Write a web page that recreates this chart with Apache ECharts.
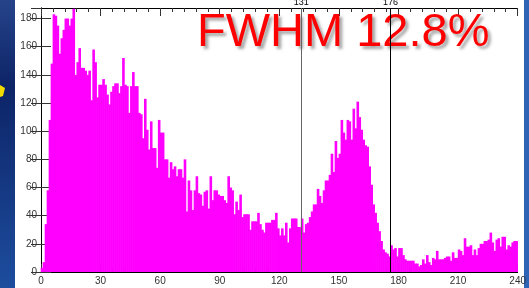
<!DOCTYPE html>
<html>
<head>
<meta charset="utf-8">
<script src="https://cdn.jsdelivr.net/npm/echarts@6/dist/echarts.min.js"></script>
<style>
html, body { margin: 0; padding: 0; }
#chart_container { width: 529px; height: 288px; }
</style>
</head>
<body>
<div id="chart_container"></div>
<script>
// counts per channel, channel 0..239
const counts = [
  3, 7, 34, 58, 108, 148, 183, 182, 175, 155,
  166, 172, 180, 180, 175, 180, 187, 140, 149, 159,
  145, 145, 143, 140, 143, 122, 158, 149, 124, 133,
  133, 137, 133, 126, 119, 128, 132, 134, 134, 127,
  132, 152, 133, 132, 113, 132, 142, 132, 132, 113,
  112, 95, 123, 101, 87, 107, 88, 88, 74, 108,
  99, 99, 80, 80, 67, 78, 73, 75, 68, 73,
  73, 67, 80, 43, 65, 58, 44, 58, 68, 56,
  55, 47, 57, 58, 45, 68, 51, 58, 58, 55,
  54, 54, 51, 49, 68, 60, 58, 41, 50, 44,
  55, 39, 41, 41, 41, 30, 36, 36, 36, 42,
  34, 30, 28, 35, 35, 35, 37, 37, 42, 31,
  26, 31, 26, 35, 21, 31, 38, 38, 38, 32,
  32, 38, 28, 34, 35, 39, 43, 48, 48, 59,
  54, 49, 58, 65, 65, 69, 84, 71, 93, 81,
  84, 108, 99, 94, 108, 107, 94, 116, 102, 121,
  110, 101, 94, 90, 89, 75, 62, 48, 42, 35,
  29, 22, 16, 14, 13, 11, 19, 16, 17, 11,
  17, 17, 12, 9, 8, 8, 8, 8, 6, 6,
  4, 5, 9, 6, 12, 7, 5, 10, 9, 15,
  9, 9, 9, 10, 11, 11, 8, 14, 10, 10,
  16, 15, 12, 24, 18, 18, 19, 12, 16, 12,
  17, 20, 20, 22, 22, 23, 28, 21, 15, 23,
  24, 18, 25, 25, 16, 19, 18, 21, 22, 22
]
// axis ranges / ticks
const xMin = 0, xMax = 240, xStep = 30
const yMin = 0, yMax = 187.5, yStep = 20
// FWHM cursors
const markers = [131, 176]
const markerColors = ['#666666', '#000000']
const titleText = 'FWHM 12.8%'

let chartPlot = echarts.init(document.getElementById('chart_container'))

const axisFont = { fontFamily: 'Liberation Sans, Arial, sans-serif', fontSize: 10, color: '#333' }

function xAxisOpt(pos, showLabel) {
  return {
    type: 'value',
    position: pos,
    min: xMin,
    max: xMax,
    interval: xStep,
    axisLine: { show: true, onZero: false, lineStyle: { color: '#000', width: 1 } },
    axisTick: { show: true, inside: true, length: 8, lineStyle: { color: '#333' } },
    minorTick: { show: true, splitNumber: 5, length: 4, lineStyle: { color: '#333' } },
    axisLabel: Object.assign({ show: showLabel, margin: 4 }, axisFont),
    splitLine: { show: false },
  }
}

function yAxisOpt(pos, showLabel) {
  return {
    type: 'value',
    position: pos,
    min: yMin,
    max: yMax,
    interval: yStep,
    axisLine: { show: true, lineStyle: { color: '#000', width: 1 } },
    axisTick: { show: true, inside: true, length: 10, lineStyle: { color: '#333' } },
    axisLabel: Object.assign({ show: showLabel, margin: 4, showMaxLabel: false }, axisFont),
    splitLine: { show: false },
  }
}

const option = {
  animation: false,
  grid: { left: 41, right: 8, top: 8, bottom: 16 },
  xAxis: [xAxisOpt('bottom', true), xAxisOpt('top', false)],
  yAxis: [yAxisOpt('left', true), yAxisOpt('right', false)],
  graphic: [
    // blue slide background + white panel
    {
      type: 'rect', z: -10, silent: true,
      shape: { x: 0, y: 0, width: 529, height: 288 },
      style: {
        fill: new echarts.graphic.LinearGradient(0, 0, 0, 1, [
          { offset: 0, color: '#26438a' },
          { offset: 0.3, color: '#0d2467' },
          { offset: 1, color: '#1d4d9e' },
        ]),
      },
    },
    {
      type: 'rect', z: -9, silent: true,
      shape: { x: 15, y: 0, width: 509, height: 288 },
      style: { fill: '#ffffff' },
    },
    {
      type: 'rect', z: -9, silent: true,
      shape: { x: 524, y: 0, width: 5, height: 288 },
      style: { fill: '#2e63b6' },
    },
    {
      type: 'polygon', z: -8, silent: true,
      shape: { points: [[0, 85], [5, 88], [3, 96], [0, 97]] },
      style: { fill: '#f2dc00' },
    },
    {
      type: 'text', z: 1, silent: true,
      x: 197, y: 33,
      style: {
        text: titleText,
        fontFamily: 'Liberation Sans, Arial, sans-serif',
        fontSize: 47,
        fill: '#ff0000',
        align: 'left',
        verticalAlign: 'middle',
        textShadowColor: 'rgba(0,0,0,0.35)',
        textShadowBlur: 3,
        textShadowOffsetX: 3,
        textShadowOffsetY: 3,
      },
    },
  ],
  series: [
    {
      type: 'bar',
      xAxisIndex: 0,
      yAxisIndex: 0,
      // slight overlap so neighbouring bins don't leave white seams
      barWidth: 2.6,
      barGap: '-100%',
      itemStyle: { color: '#ff00ff' },
      data: counts.map((v, i) => [i + 0.5, v]),
      markLine: {
        silent: true,
        symbol: ['none', 'none'],
        label: {
          show: true,
          position: 'end',
          distance: 1,
          formatter: p => p.value,
          fontFamily: 'Liberation Sans, Arial, sans-serif',
          fontSize: 9,
          color: '#000',
        },
        data: markers.map((m, k) => ({
          xAxis: m,
          lineStyle: { color: markerColors[k], type: 'solid', width: 1 },
        })),
      },
    },
  ],
}

chartPlot.setOption(option)
</script>
</body>
</html>
